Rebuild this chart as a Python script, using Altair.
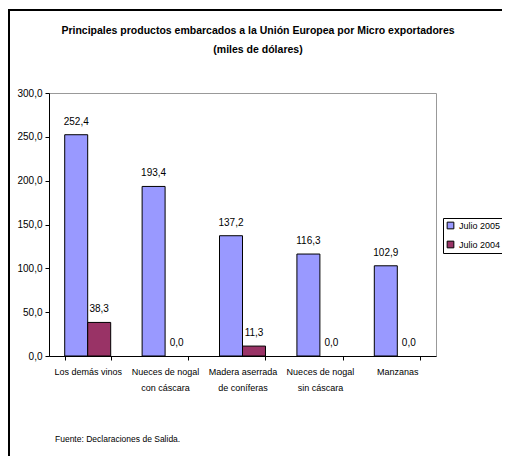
import altair as alt
import pandas as pd

categories = ["Los demás vinos", "Nueces de nogal\ncon cáscara", "Madera aserrada\nde coníferas",
              "Nueces de nogal\nsin cáscara", "Manzanas"]
series = ["Julio 2005", "Julio 2004"]
julio_2005 = [252.4, 193.4, 137.2, 116.3, 102.9]
julio_2004 = [38.3, 0.0, 11.3, 0.0, 0.0]
colors = ["#9999FF", "#993366"]
title_line1 = "Principales productos embarcados a la Unión Europea por Micro exportadores"
title_line2 = "(miles de dólares)"
source_note = "Fuente: Declaraciones de Salida."

rows = []
for c, a, b in zip(categories, julio_2005, julio_2004):
    rows.append({"cat": c, "serie": series[0], "value": a})
    rows.append({"cat": c, "serie": series[1], "value": b})
df = pd.DataFrame(rows)

FONT = "Liberation Sans"
FS = 10

base = alt.Chart(df).encode(
    x=alt.X("cat:N", sort=categories, title=None,
            scale=alt.Scale(paddingInner=0.406, paddingOuter=0.203),
            axis=alt.Axis(labelExpr="split(datum.label, '\\n')", labelAngle=0,
                          tickBand="extent", domainColor="#000000", tickColor="#000000",
                          tickSize=4, labelPadding=7, labelFont=FONT, labelFontSize=9,
                          labelColor="#000000", labelLineHeight=16)),
    xOffset=alt.XOffset("serie:N", sort=series, scale=alt.Scale(paddingInner=0, paddingOuter=0)),
)

bars = base.mark_bar(stroke="#000000", strokeWidth=1).encode(
    y=alt.Y("value:Q", title=None,
            scale=alt.Scale(domain=[0, 300]),
            axis=alt.Axis(values=[0, 50, 100, 150, 200, 250, 300], grid=False,
                          labelExpr="replace(format(datum.value, '.1f'), '.', ',')",
                          domainColor="#000000", tickColor="#000000", tickSize=4,
                          labelFont=FONT, labelFontSize=FS, labelColor="#000000",
                          labelPadding=3)),
    color=alt.Color("serie:N", sort=series, title=None,
                    scale=alt.Scale(domain=series, range=colors),
                    legend=alt.Legend(orient="none", legendX=394, legendY=125,
                                      strokeColor="#000000", padding=3,
                                      symbolType="square", symbolSize=45,
                                      symbolStrokeColor="#000000", symbolStrokeWidth=1,
                                      labelFont=FONT, labelFontSize=9, labelColor="#000000",
                                      rowPadding=8, labelOffset=4)),
    strokeOpacity=alt.condition("datum.value == 0", alt.value(0), alt.value(1)),
)

labels = base.mark_text(font=FONT, fontSize=FS, color="#000000", dy=-10,
                        baseline="alphabetic").transform_calculate(
    lbl="replace(format(datum.value, '.1f'), '.', ',')"
).encode(
    y=alt.Y("value:Q"),
    text="lbl:N",
)

note = alt.Chart(pd.DataFrame({"t": [source_note]})).mark_text(
    font=FONT, fontSize=8.5, color="#000000", align="left", baseline="middle"
).encode(x=alt.value(6), y=alt.value(346), text="t:N")

title1 = alt.Chart(pd.DataFrame({"t": [title_line1]})).mark_text(
    font=FONT, fontSize=10.5, fontWeight="bold", color="#000000", align="center",
    baseline="middle"
).encode(x=alt.value(209), y=alt.value(-62), text="t:N")

title2 = alt.Chart(pd.DataFrame({"t": [title_line2]})).mark_text(
    font=FONT, fontSize=10.5, fontWeight="bold", color="#000000", align="center",
    baseline="middle"
).encode(x=alt.value(209), y=alt.value(-43), text="t:N")

frame_top = alt.Chart(pd.DataFrame({"t": [0]})).mark_rule(
    stroke="#000000", strokeWidth=2
).encode(x=alt.value(-41), x2=alt.value(453), y=alt.value(-83))

frame_left = alt.Chart(pd.DataFrame({"t": [0]})).mark_rule(
    stroke="#000000", strokeWidth=2
).encode(x=alt.value(-40), y=alt.value(-84), y2=alt.value(363))

chart = alt.layer(frame_top, frame_left, bars, labels, note, title1, title2).properties(
    width=387, height=263,
    padding={"left": 41, "top": 85, "right": 66, "bottom": 100},
    autosize=alt.AutoSizeParams(type="none"),
).configure_view(stroke="#999999", strokeWidth=1)

chart.save("out.html", embed_options={"renderer": "svg", "actions": False})
